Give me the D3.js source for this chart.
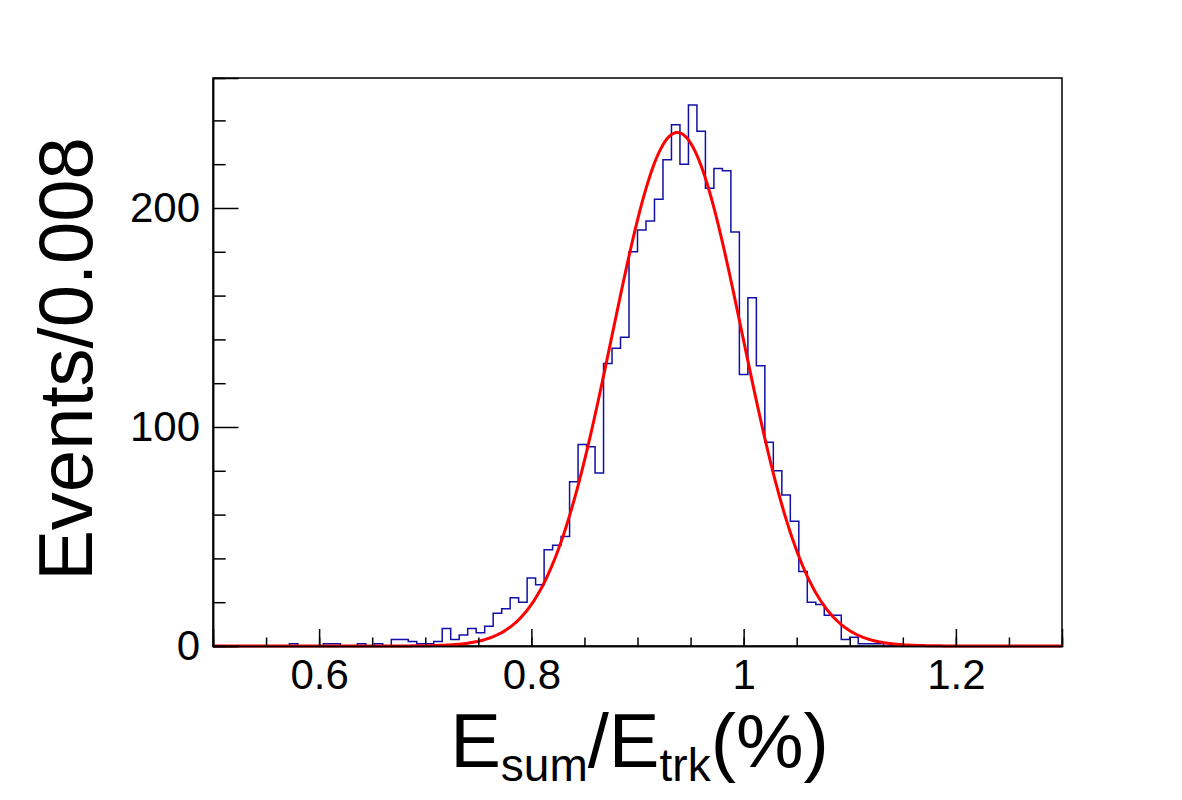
<!DOCTYPE html>
<html>
<head>
<meta charset="utf-8">
<script src="https://cdn.jsdelivr.net/npm/d3@7"></script>
<style>
  html, body { margin: 0; padding: 0; background: #fff; }
  svg { display: block; }
  text { font-family: "Liberation Sans", Arial, Helvetica, sans-serif; fill: #000; }
</style>
</head>
<body>
<svg id="chart" width="1182" height="800"></svg>
<script>
// ---- data ----
const binLow = 0.5;
const binWidth = 0.008;
const binCounts = [
  0, 0, 0, 0, 0, 0, 0, 0, 0, 1,
  0, 0, 0, 1, 1, 0, 0, 1, 0, 1,
  0, 3, 3, 2, 1, 1, 2, 8, 3, 5,
  8, 6, 9, 15, 17, 22, 20, 31, 28, 44,
  46, 50, 75, 92, 91, 79, 129, 136, 141, 180,
  190, 194, 204, 222, 238, 220, 247, 235, 209, 218,
  217, 189, 124, 159, 128, 93, 80, 69, 57, 34,
  20, 19, 14, 14, 3, 4, 1, 1, 1, 0,
  0, 0, 0, 0, 0, 0, 0, 0, 0, 0,
  0, 0, 0, 0, 0, 0, 0, 0, 0, 0
];
// Gaussian fit parameters (constant, mean, sigma)
const fitConstant = 234.5;
const fitMean = 0.9375;
const fitSigma = 0.0613;
const xMajorTicks = [0.6, 0.8, 1.0, 1.2];
const xMinorTicks = [0.55, 0.6, 0.65, 0.7, 0.75, 0.8, 0.85, 0.9, 0.95, 1.0, 1.05, 1.1, 1.15, 1.2, 1.25];
const yMajorTicks = [0, 100, 200];
const yMinorTicks = [20, 40, 60, 80, 120, 140, 160, 180, 220, 240];
const xDomain = [0.5, 1.3];
const yDomain = [0, 259.35];
const xTitleParts = [["E", false], ["sum", true], ["/E", false], ["trk", true], ["(%)", false]];
const yTitle = "Events/0.008";

// ---- layout ----
const L = 213, R = 1062, T = 78, B = 646;
const svg = d3.select("#chart");
const x = d3.scaleLinear().domain(xDomain).range([L, R]);
const y = d3.scaleLinear().domain(yDomain).range([B, T]);

// frame
svg.append("rect").attr("x", L).attr("y", T).attr("width", R - L).attr("height", B - T)
  .attr("fill", "none").attr("stroke", "#000").attr("stroke-width", 1.5);

// histogram outline
const pts = [[xDomain[0], 0]];
binCounts.forEach((c, i) => {
  const lo = binLow + i * binWidth, hi = lo + binWidth;
  pts.push([lo, c]); pts.push([hi, c]);
});
pts.push([xDomain[1], 0]);
svg.append("path")
  .attr("d", d3.line().x(d => x(d[0])).y(d => y(d[1]))(pts))
  .attr("fill", "none").attr("stroke", "#1010a8").attr("stroke-width", 1.5);

// fit curve
const fitPts = d3.range(0, 401).map(i => {
  const v = xDomain[0] + (xDomain[1] - xDomain[0]) * i / 400;
  return [v, fitConstant * Math.exp(-0.5 * Math.pow((v - fitMean) / fitSigma, 2))];
});
svg.append("path")
  .attr("d", d3.line().x(d => x(d[0])).y(d => y(d[1]))(fitPts))
  .attr("fill", "none").attr("stroke", "#ff0000").attr("stroke-width", 3);

// x axis
const gxMinor = svg.append("g").attr("transform", `translate(0,${B})`)
  .call(d3.axisBottom(x).tickValues(xMinorTicks).tickSize(-8.5).tickFormat(""));
const gx = svg.append("g").attr("transform", `translate(0,${B})`)
  .call(d3.axisBottom(x).tickValues(xMajorTicks).tickSize(-17).tickPadding(13)
    .tickFormat(d => d3.format("~g")(d)));
[gxMinor, gx].forEach(g => { g.select(".domain").attr("stroke", "#000").attr("stroke-width", 1.5); g.selectAll("line").attr("stroke", "#000").attr("stroke-width", 1.5); });
gx.selectAll("text").attr("font-size", 42).attr("fill", "#000")
  .attr("font-family", '"Liberation Sans", Arial, sans-serif');

// y axis
const gyMinor = svg.append("g").attr("transform", `translate(${L},0)`)
  .call(d3.axisLeft(y).tickValues(yMinorTicks).tickSize(-12.7).tickFormat(""));
const gy = svg.append("g").attr("transform", `translate(${L},0)`)
  .call(d3.axisLeft(y).tickValues(yMajorTicks).tickSize(-25.5).tickPadding(13));
[gyMinor, gy].forEach(g => { g.select(".domain").attr("stroke", "#000").attr("stroke-width", 1.5); g.selectAll("line").attr("stroke", "#000").attr("stroke-width", 1.5); });
gy.selectAll("text").attr("font-size", 42).attr("fill", "#000")
  .attr("font-family", '"Liberation Sans", Arial, sans-serif');

// x title
const xt = svg.append("text").attr("x", (L + R) / 2 + 2).attr("y", 767)
  .attr("text-anchor", "middle").attr("font-size", 76);
xTitleParts.forEach(([s, sub], i) => {
  const prevSub = i > 0 && xTitleParts[i - 1][1];
  const ts = xt.append("tspan").text(s);
  if (sub) ts.attr("font-size", 46).attr("dy", 14);
  else ts.attr("dy", prevSub ? -14 : 0);
});

// y title
svg.append("text")
  .attr("transform", `translate(92,${(T + B) / 2 - 3}) rotate(-90)`)
  .attr("text-anchor", "middle").attr("font-size", 76).text(yTitle);
</script>
</body>
</html>
